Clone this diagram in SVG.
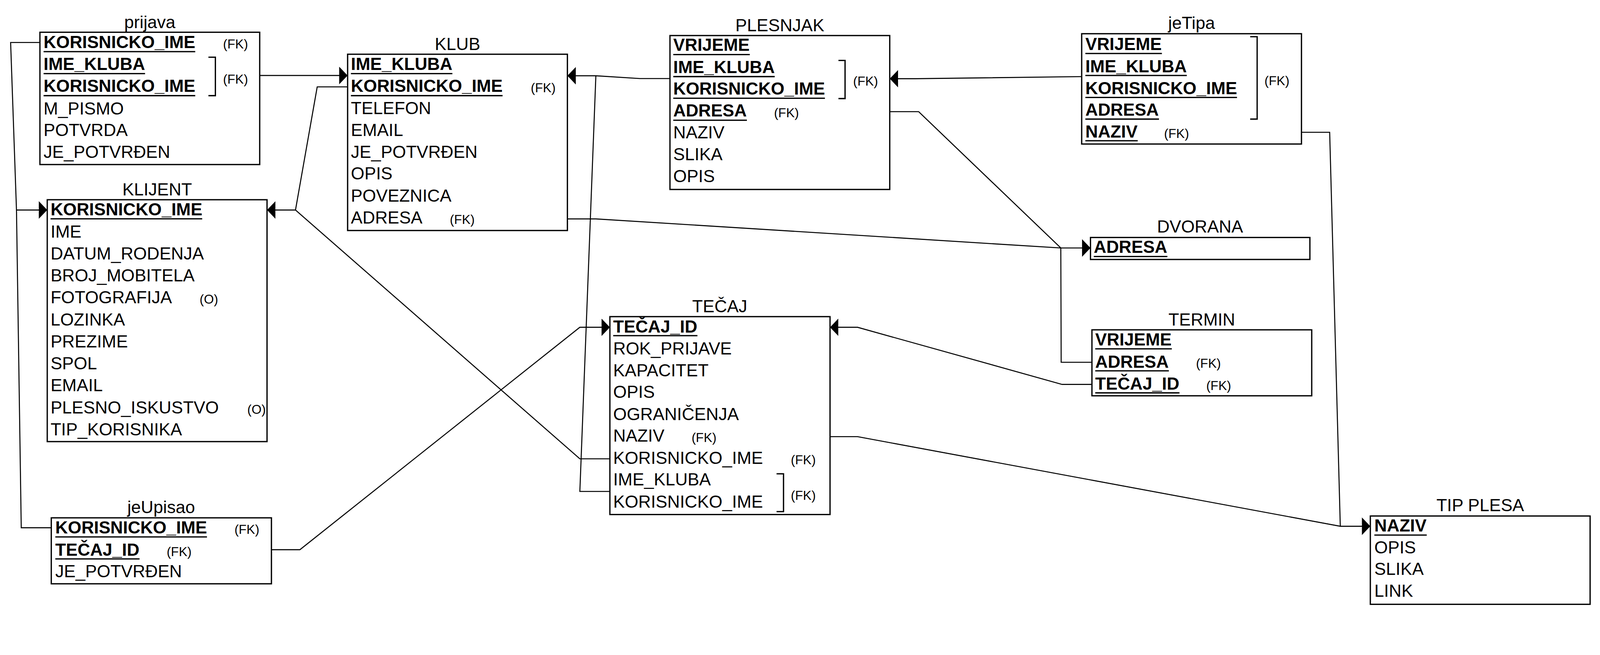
<svg xmlns="http://www.w3.org/2000/svg" width="4368" height="1676" viewBox="0 0 4368 1676" preserveAspectRatio="xMinYMin meet">
<style>
svg{width:100%;height:100%}
text{font-family:"Liberation Sans",Arial,Helvetica,sans-serif;font-size:47.5px;fill:#000}
.b{font-weight:bold}
.fk{font-size:35px}
.ti{text-anchor:middle}
.box{fill:#fff;stroke:#000;stroke-width:3.5}
.u{stroke:#000;stroke-width:3.5}
.br{fill:none;stroke:#000;stroke-width:3.5}
.c{fill:none;stroke:#000;stroke-width:2.8;stroke-linejoin:miter}
.a{marker-end:url(#arr)}
</style>
<defs>
<marker id="arr" markerUnits="userSpaceOnUse" viewBox="0 0 24 48" markerWidth="24" markerHeight="48" refX="23" refY="24" orient="auto">
<path d="M0,0 L23,24 L0,48 Z" fill="#000"/>
</marker>
</defs>
<rect width="4368" height="1676" fill="#fff"/>

<g id="prijava">
<text class="ti" x="409" y="77">prijava</text>
<rect class="box" x="109" y="88" width="600" height="361"/>
<text class="b" x="119" y="131">KORISNICKO_IME</text><line class="u" x1="119" y1="141" x2="533" y2="141"/>
<text class="fk" x="609" y="132">(FK)</text>
<text class="b" x="119" y="191">IME_KLUBA</text><line class="u" x1="119" y1="201" x2="396" y2="201"/>
<text class="b" x="119" y="251">KORISNICKO_IME</text><line class="u" x1="119" y1="261" x2="533" y2="261"/>
<path class="br" d="M569,156 H588 V261 H569"/>
<text class="fk" x="609" y="228">(FK)</text>
<text x="119" y="312">M_PISMO</text>
<text x="119" y="371">POTVRDA</text>
<text x="119" y="431">JE_POTVRĐEN</text>
</g>

<g id="klub">
<text class="ti" x="1249" y="137">KLUB</text>
<rect class="box" x="949" y="148" width="600" height="481"/>
<text class="b" x="958" y="191">IME_KLUBA</text><line class="u" x1="958" y1="201" x2="1235" y2="201"/>
<text class="b" x="958" y="251">KORISNICKO_IME</text><line class="u" x1="958" y1="261" x2="1372" y2="261"/>
<text class="fk" x="1449" y="252">(FK)</text>
<text x="958" y="311">TELEFON</text>
<text x="958" y="371">EMAIL</text>
<text x="958" y="431">JE_POTVRĐEN</text>
<text x="958" y="490">OPIS</text>
<text x="958" y="550">POVEZNICA</text>
<text x="958" y="610">ADRESA</text>
<text class="fk" x="1228" y="611">(FK)</text>
</g>

<g id="klijent">
<text class="ti" x="429" y="533">KLIJENT</text>
<rect class="box" x="129" y="545" width="600" height="660"/>
<text class="b" x="138" y="588">KORISNICKO_IME</text><line class="u" x1="138" y1="597" x2="552" y2="597"/>
<text x="138" y="648">IME</text>
<text x="138" y="708">DATUM_RODENJA</text>
<text x="138" y="768">BROJ_MOBITELA</text>
<text x="138" y="828">FOTOGRAFIJA</text>
<text class="fk" x="545" y="829">(O)</text>
<text x="138" y="888">LOZINKA</text>
<text x="138" y="948">PREZIME</text>
<text x="138" y="1008">SPOL</text>
<text x="138" y="1068">EMAIL</text>
<text x="138" y="1128">PLESNO_ISKUSTVO</text>
<text class="fk" x="675" y="1129">(O)</text>
<text x="138" y="1188">TIP_KORISNIKA</text>
</g>

<g id="jeUpisao">
<text class="ti" x="440" y="1400">jeUpisao</text>
<rect class="box" x="140" y="1413" width="601" height="180"/>
<text class="b" x="151" y="1456">KORISNICKO_IME</text><line class="u" x1="151" y1="1465" x2="565" y2="1465"/>
<text class="fk" x="640" y="1457">(FK)</text>
<text class="b" x="151" y="1516">TEČAJ_ID</text><line class="u" x1="151" y1="1525" x2="381" y2="1525"/>
<text class="fk" x="455" y="1517">(FK)</text>
<text x="151" y="1575">JE_POTVRĐEN</text>
</g>

<g id="plesnjak">
<text class="ti" x="2129" y="85">PLESNJAK</text>
<rect class="box" x="1829" y="97" width="600" height="420"/>
<text class="b" x="1838" y="139">VRIJEME</text><line class="u" x1="1838" y1="149" x2="2047" y2="149"/>
<text class="b" x="1838" y="199">IME_KLUBA</text><line class="u" x1="1838" y1="209" x2="2115" y2="209"/>
<text class="b" x="1838" y="258">KORISNICKO_IME</text><line class="u" x1="1838" y1="268" x2="2252" y2="268"/>
<path class="br" d="M2289,165 H2307 V269 H2289"/>
<text class="fk" x="2329" y="234">(FK)</text>
<text class="b" x="1838" y="318">ADRESA</text><line class="u" x1="1838" y1="328" x2="2039" y2="328"/>
<text class="fk" x="2113" y="320">(FK)</text>
<text x="1838" y="378">NAZIV</text>
<text x="1838" y="437">SLIKA</text>
<text x="1838" y="497">OPIS</text>
</g>

<g id="jeTipa">
<text class="ti" x="3253" y="79">jeTipa</text>
<rect class="box" x="2953" y="92" width="600" height="301"/>
<text class="b" x="2963" y="137">VRIJEME</text><line class="u" x1="2963" y1="146" x2="3172" y2="146"/>
<text class="b" x="2963" y="197">IME_KLUBA</text><line class="u" x1="2963" y1="206" x2="3240" y2="206"/>
<text class="b" x="2963" y="257">KORISNICKO_IME</text><line class="u" x1="2963" y1="266" x2="3377" y2="266"/>
<text class="b" x="2963" y="316">ADRESA</text><line class="u" x1="2963" y1="325" x2="3164" y2="325"/>
<text class="b" x="2963" y="375">NAZIV</text><line class="u" x1="2963" y1="384" x2="3106" y2="384"/>
<text class="fk" x="3178" y="376">(FK)</text>
<path class="br" d="M3413,100 H3432 V325 H3413"/>
<text class="fk" x="3452" y="233">(FK)</text>
</g>

<g id="dvorana">
<text class="ti" x="3276" y="635">DVORANA</text>
<rect class="box" x="2977" y="648" width="599" height="60"/>
<text class="b" x="2986" y="690">ADRESA</text><line class="u" x1="2986" y1="700" x2="3187" y2="700"/>
</g>

<g id="termin">
<text class="ti" x="3281" y="888">TERMIN</text>
<rect class="box" x="2981" y="900" width="600" height="180"/>
<text class="b" x="2990" y="943">VRIJEME</text><line class="u" x1="2990" y1="952" x2="3199" y2="952"/>
<text class="b" x="2990" y="1003">ADRESA</text><line class="u" x1="2990" y1="1012" x2="3191" y2="1012"/>
<text class="fk" x="3265" y="1004">(FK)</text>
<text class="b" x="2990" y="1063">TEČAJ_ID</text><line class="u" x1="2990" y1="1072" x2="3220" y2="1072"/>
<text class="fk" x="3293" y="1064">(FK)</text>
</g>

<g id="tecaj">
<text class="ti" x="1965" y="852">TEČAJ</text>
<rect class="box" x="1665" y="864" width="601" height="540"/>
<text class="b" x="1674" y="907">TEČAJ_ID</text><line class="u" x1="1674" y1="916" x2="1904" y2="916"/>
<text x="1674" y="967">ROK_PRIJAVE</text>
<text x="1674" y="1027">KAPACITET</text>
<text x="1674" y="1086">OPIS</text>
<text x="1674" y="1146">OGRANIČENJA</text>
<text x="1674" y="1205">NAZIV</text>
<text class="fk" x="1888" y="1206">(FK)</text>
<text x="1674" y="1266">KORISNICKO_IME</text>
<text class="fk" x="2159" y="1267">(FK)</text>
<text x="1674" y="1325">IME_KLUBA</text>
<text x="1674" y="1385">KORISNICKO_IME</text>
<path class="br" d="M2120,1293 H2139 V1396 H2120"/>
<text class="fk" x="2159" y="1364">(FK)</text>
</g>

<g id="tipPlesa">
<text class="ti" x="4041" y="1395">TIP PLESA</text>
<rect class="box" x="3741" y="1408" width="600" height="241"/>
<text class="b" x="3752" y="1450">NAZIV</text><line class="u" x1="3752" y1="1460" x2="3895" y2="1460"/>
<text x="3752" y="1510">OPIS</text>
<text x="3752" y="1569">SLIKA</text>
<text x="3752" y="1628">LINK</text>
</g>

<g id="connectors">
<path class="c a" d="M709,206 H949"/>
<path class="c a" d="M949,237 H866 L806.7,573 H729"/>
<path class="c" d="M806.7,573 L1583,1252 H1665"/>
<path class="c a" d="M109,116 H29 L45,573 H129"/>
<path class="c" d="M140,1440 H58 L45,573"/>
<path class="c a" d="M741,1500 H818.7 L1583,893 H1665"/>
<path class="c" d="M1665,1341 H1583 L1626.7,207"/>
<path class="c a" d="M1829,214.3 H1746.7 L1626.7,206.7 H1549"/>
<path class="c a" d="M2953,209 L2498,214.7 H2429"/>
<path class="c a" d="M2429,304.7 H2508 L2896,676.7 H2977"/>
<path class="c" d="M1549,597.3 H1626.7 L2896,676.7"/>
<path class="c" d="M2981,988.5 H2897 L2896,676.7"/>
<path class="c a" d="M2981,1049 H2899.6 L2341,893 H2266"/>
<path class="c a" d="M2266,1191.5 H2341 L3659,1436 H3741"/>
<path class="c" d="M3553,361 H3630 L3659,1436"/>
</g>
</svg>
